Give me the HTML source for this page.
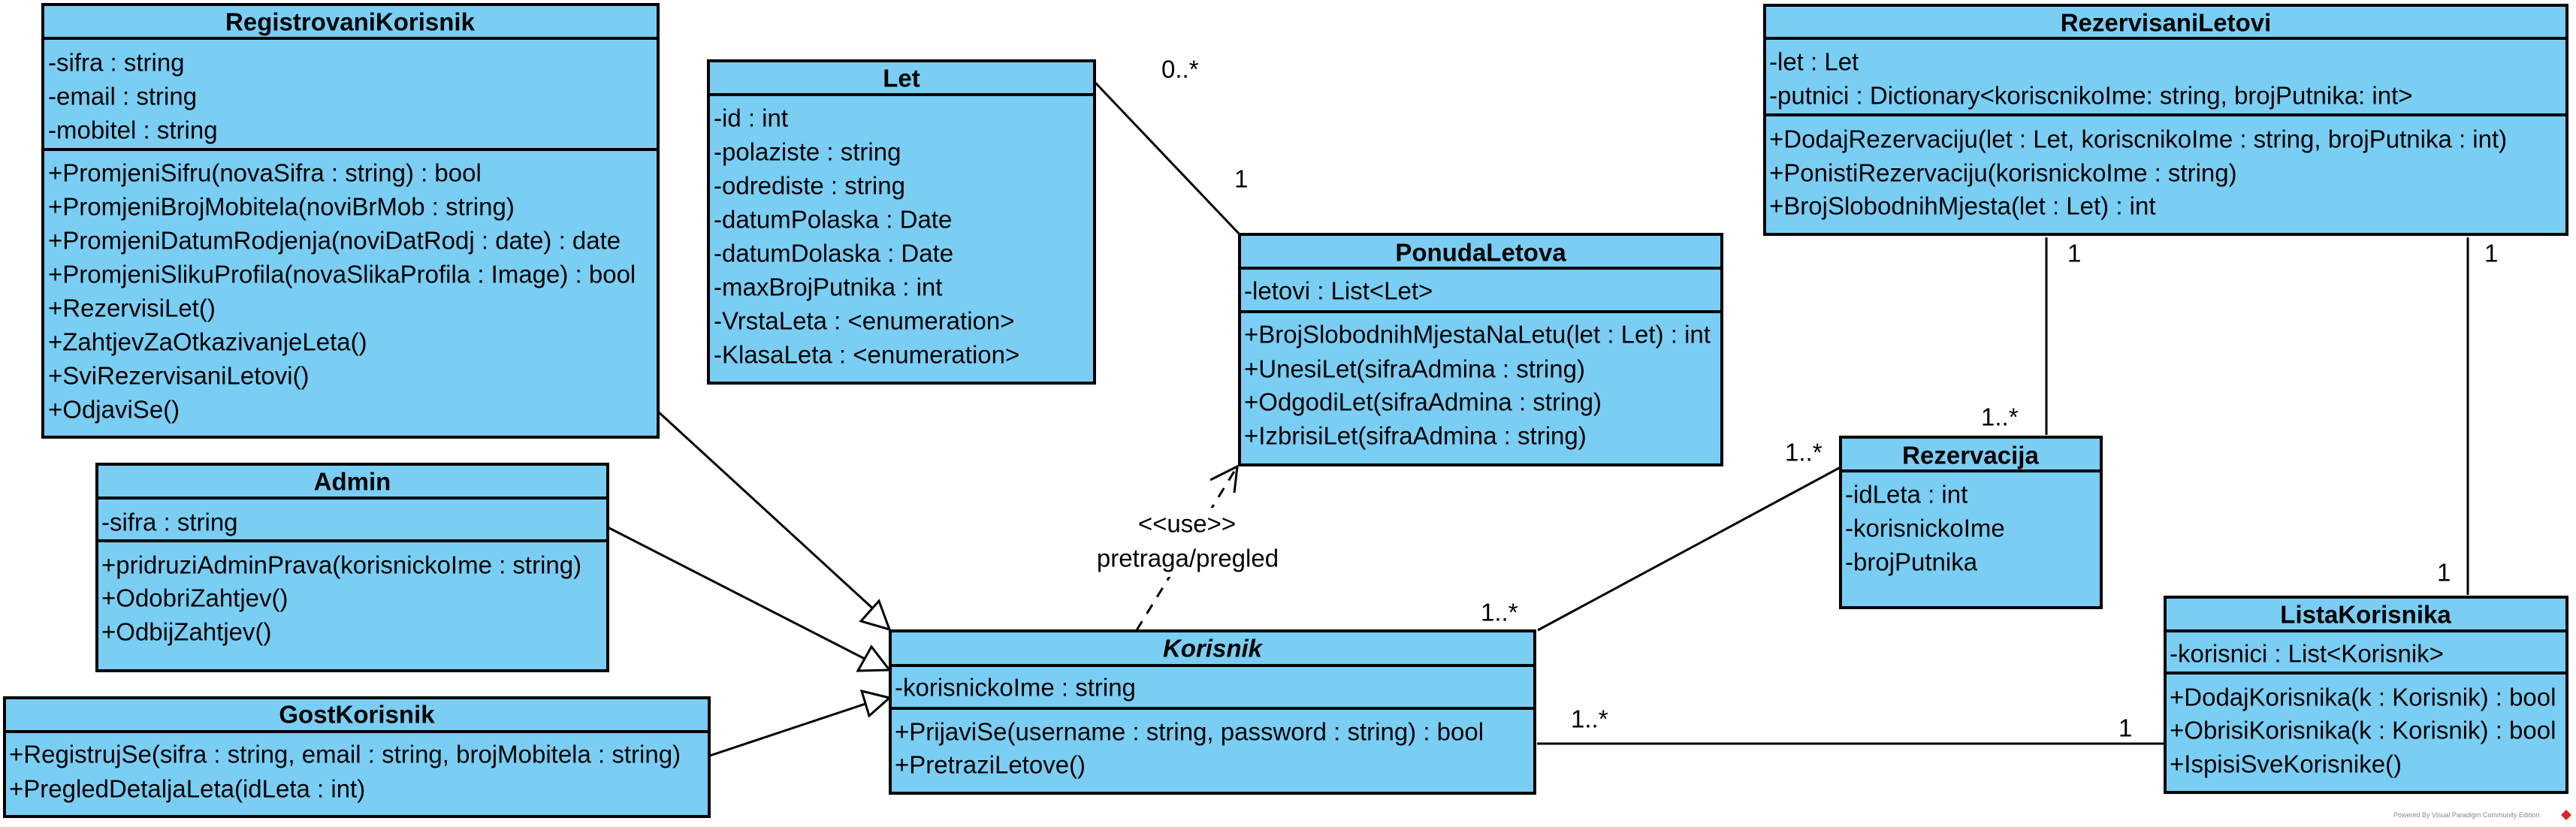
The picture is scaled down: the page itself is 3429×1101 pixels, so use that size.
<!DOCTYPE html>
<html><head><meta charset="utf-8"><style>
html,body{margin:0;padding:0;background:#fff;}
svg{display:block;}
text{font-family:"Liberation Sans",Arial,sans-serif;font-size:33px;fill:#000;dominant-baseline:central;}
.t{font-weight:bold;text-anchor:middle;}
.b{fill:#7ACEF4;stroke:#000;stroke-width:4;}
.l{stroke:#000;stroke-width:4;}
.c{stroke:#000;stroke-width:3;fill:none;}
.lab{font-size:33px;}
</style></head><body>
<svg width="3429" height="1101" viewBox="0 0 3429 1101" xmlns="http://www.w3.org/2000/svg">
<!-- connectors -->
<line class="c" x1="1457" y1="109" x2="1651" y2="313"/>
<text class="lab" x="1546" y="92">0..*</text>
<text class="lab" x="1643" y="238">1</text>

<line class="c" x1="876" y1="548" x2="1165" y2="813"/>
<polygon points="1184,838 1170,800 1146,827" fill="#fff" stroke="#000" stroke-width="3"/>
<line class="c" x1="809" y1="702" x2="1151" y2="877"/>
<polygon points="1184,892 1160,861 1142,893" fill="#fff" stroke="#000" stroke-width="3"/>
<line class="c" x1="945" y1="1006" x2="1152" y2="937"/>
<polygon points="1184,929 1147,920 1157,953" fill="#fff" stroke="#000" stroke-width="3"/>

<line x1="1513" y1="839" x2="1647" y2="621" stroke="#000" stroke-width="3" stroke-dasharray="14,12"/>
<polyline class="c" points="1611,639 1647,621 1643,656"/>
<rect x="1460" y="676" width="245" height="92" fill="#fff"/>
<text class="lab" x="1580" y="697" text-anchor="middle">&lt;&lt;use&gt;&gt;</text>
<text class="lab" x="1581" y="743" text-anchor="middle">pretraga/pregled</text>

<line class="c" x1="2047" y1="839" x2="2450" y2="622"/>
<text class="lab" x="1971" y="815">1..*</text>
<text class="lab" x="2376" y="602">1..*</text>

<line class="c" x1="2046" y1="990" x2="2881" y2="990"/>
<text class="lab" x="2091" y="957">1..*</text>
<text class="lab" x="2820" y="969">1</text>

<line class="c" x1="2724" y1="316" x2="2724" y2="579"/>
<text class="lab" x="2752" y="337">1</text>
<text class="lab" x="2637" y="555">1..*</text>
<line class="c" x1="3285" y1="316" x2="3285" y2="792"/>
<text class="lab" x="3307" y="337">1</text>
<text class="lab" x="3244" y="762">1</text>

<!-- RegistrovaniKorisnik -->
<rect class="b" x="57" y="6" width="819" height="576"/>
<line class="l" x1="57" y1="51" x2="876" y2="51"/><line class="l" x1="57" y1="199" x2="876" y2="199"/>
<text class="t" x="466" y="29">RegistrovaniKorisnik</text>
<text x="64" y="83">-sifra : string</text>
<text x="64" y="128">-email : string</text>
<text x="64" y="173">-mobitel : string</text>
<text x="64" y="230">+PromjeniSifru(novaSifra : string) : bool</text>
<text x="64" y="275">+PromjeniBrojMobitela(noviBrMob : string)</text>
<text x="64" y="320">+PromjeniDatumRodjenja(noviDatRodj : date) : date</text>
<text x="64" y="365">+PromjeniSlikuProfila(novaSlikaProfila : Image) : bool</text>
<text x="64" y="410">+RezervisiLet()</text>
<text x="64" y="455">+ZahtjevZaOtkazivanjeLeta()</text>
<text x="64" y="500">+SviRezervisaniLetovi()</text>
<text x="64" y="545">+OdjaviSe()</text>

<!-- Let -->
<rect class="b" x="943" y="81" width="514" height="429"/>
<line class="l" x1="943" y1="126" x2="1457" y2="126"/>
<text class="t" x="1200" y="104">Let</text>
<text x="950" y="157">-id : int</text>
<text x="950" y="202">-polaziste : string</text>
<text x="950" y="247">-odrediste : string</text>
<text x="950" y="292">-datumPolaska : Date</text>
<text x="950" y="337">-datumDolaska : Date</text>
<text x="950" y="382">-maxBrojPutnika : int</text>
<text x="950" y="427">-VrstaLeta : &lt;enumeration&gt;</text>
<text x="950" y="472">-KlasaLeta : &lt;enumeration&gt;</text>

<!-- Admin -->
<rect class="b" x="129" y="618" width="680" height="275"/>
<line class="l" x1="129" y1="663" x2="809" y2="663"/><line class="l" x1="129" y1="720" x2="809" y2="720"/>
<text class="t" x="469" y="641">Admin</text>
<text x="135" y="695">-sifra : string</text>
<text x="135" y="752">+pridruziAdminPrava(korisnickoIme : string)</text>
<text x="135" y="796">+OdobriZahtjev()</text>
<text x="135" y="841">+OdbijZahtjev()</text>

<!-- GostKorisnik -->
<rect class="b" x="6" y="929" width="938" height="158"/>
<line class="l" x1="6" y1="974" x2="944" y2="974"/>
<text class="t" x="475" y="951">GostKorisnik</text>
<text x="12" y="1004">+RegistrujSe(sifra : string, email : string, brojMobitela : string)</text>
<text x="12" y="1050">+PregledDetaljaLeta(idLeta : int)</text>

<!-- Korisnik -->
<rect class="b" x="1185" y="840" width="858" height="216"/>
<line class="l" x1="1185" y1="886" x2="2043" y2="886"/><line class="l" x1="1185" y1="943" x2="2043" y2="943"/>
<text class="t" x="1614" y="863" font-style="italic">Korisnik</text>
<text x="1191" y="915">-korisnickoIme : string</text>
<text x="1191" y="974">+PrijaviSe(username : string, password : string) : bool</text>
<text x="1191" y="1018">+PretraziLetove()</text>

<!-- PonudaLetova -->
<rect class="b" x="1650" y="312" width="642" height="307"/>
<line class="l" x1="1650" y1="357" x2="2292" y2="357"/><line class="l" x1="1650" y1="415" x2="2292" y2="415"/>
<text class="t" x="1971" y="336">PonudaLetova</text>
<text x="1656" y="387">-letovi : List&lt;Let&gt;</text>
<text x="1656" y="445">+BrojSlobodnihMjestaNaLetu(let : Let) : int</text>
<text x="1656" y="491">+UnesiLet(sifraAdmina : string)</text>
<text x="1656" y="535">+OdgodiLet(sifraAdmina : string)</text>
<text x="1656" y="580">+IzbrisiLet(sifraAdmina : string)</text>

<!-- RezervisaniLetovi -->
<rect class="b" x="2349" y="7" width="1068" height="305"/>
<line class="l" x1="2349" y1="51" x2="3417" y2="51"/><line class="l" x1="2349" y1="153" x2="3417" y2="153"/>
<text class="t" x="2883" y="30">RezervisaniLetovi</text>
<text x="2355" y="82">-let : Let</text>
<text x="2355" y="127">-putnici : Dictionary&lt;koriscnikoIme: string, brojPutnika: int&gt;</text>
<text x="2355" y="185">+DodajRezervaciju(let : Let, koriscnikoIme : string, brojPutnika : int)</text>
<text x="2355" y="230">+PonistiRezervaciju(korisnickoIme : string)</text>
<text x="2355" y="274">+BrojSlobodnihMjesta(let : Let) : int</text>

<!-- Rezervacija -->
<rect class="b" x="2450" y="582" width="347" height="227"/>
<line class="l" x1="2450" y1="627" x2="2797" y2="627"/>
<text class="t" x="2623" y="606">Rezervacija</text>
<text x="2456" y="658">-idLeta : int</text>
<text x="2456" y="703">-korisnickoIme</text>
<text x="2456" y="748">-brojPutnika</text>

<!-- ListaKorisnika -->
<rect class="b" x="2882" y="795" width="535" height="260"/>
<line class="l" x1="2882" y1="840" x2="3417" y2="840"/><line class="l" x1="2882" y1="896" x2="3417" y2="896"/>
<text class="t" x="3149" y="818">ListaKorisnika</text>
<text x="2888" y="870">-korisnici : List&lt;Korisnik&gt;</text>
<text x="2888" y="928">+DodajKorisnika(k : Korisnik) : bool</text>
<text x="2888" y="972">+ObrisiKorisnika(k : Korisnik) : bool</text>
<text x="2888" y="1017">+IspisiSveKorisnike()</text>

<text x="3186" y="1085" style="font-size:9px;fill:#888">Powered By Visual Paradigm Community Edition</text>
<polygon points="3416,1078 3423,1085 3416,1092 3409,1085" fill="#d9262c"/>
</svg>
</body></html>
